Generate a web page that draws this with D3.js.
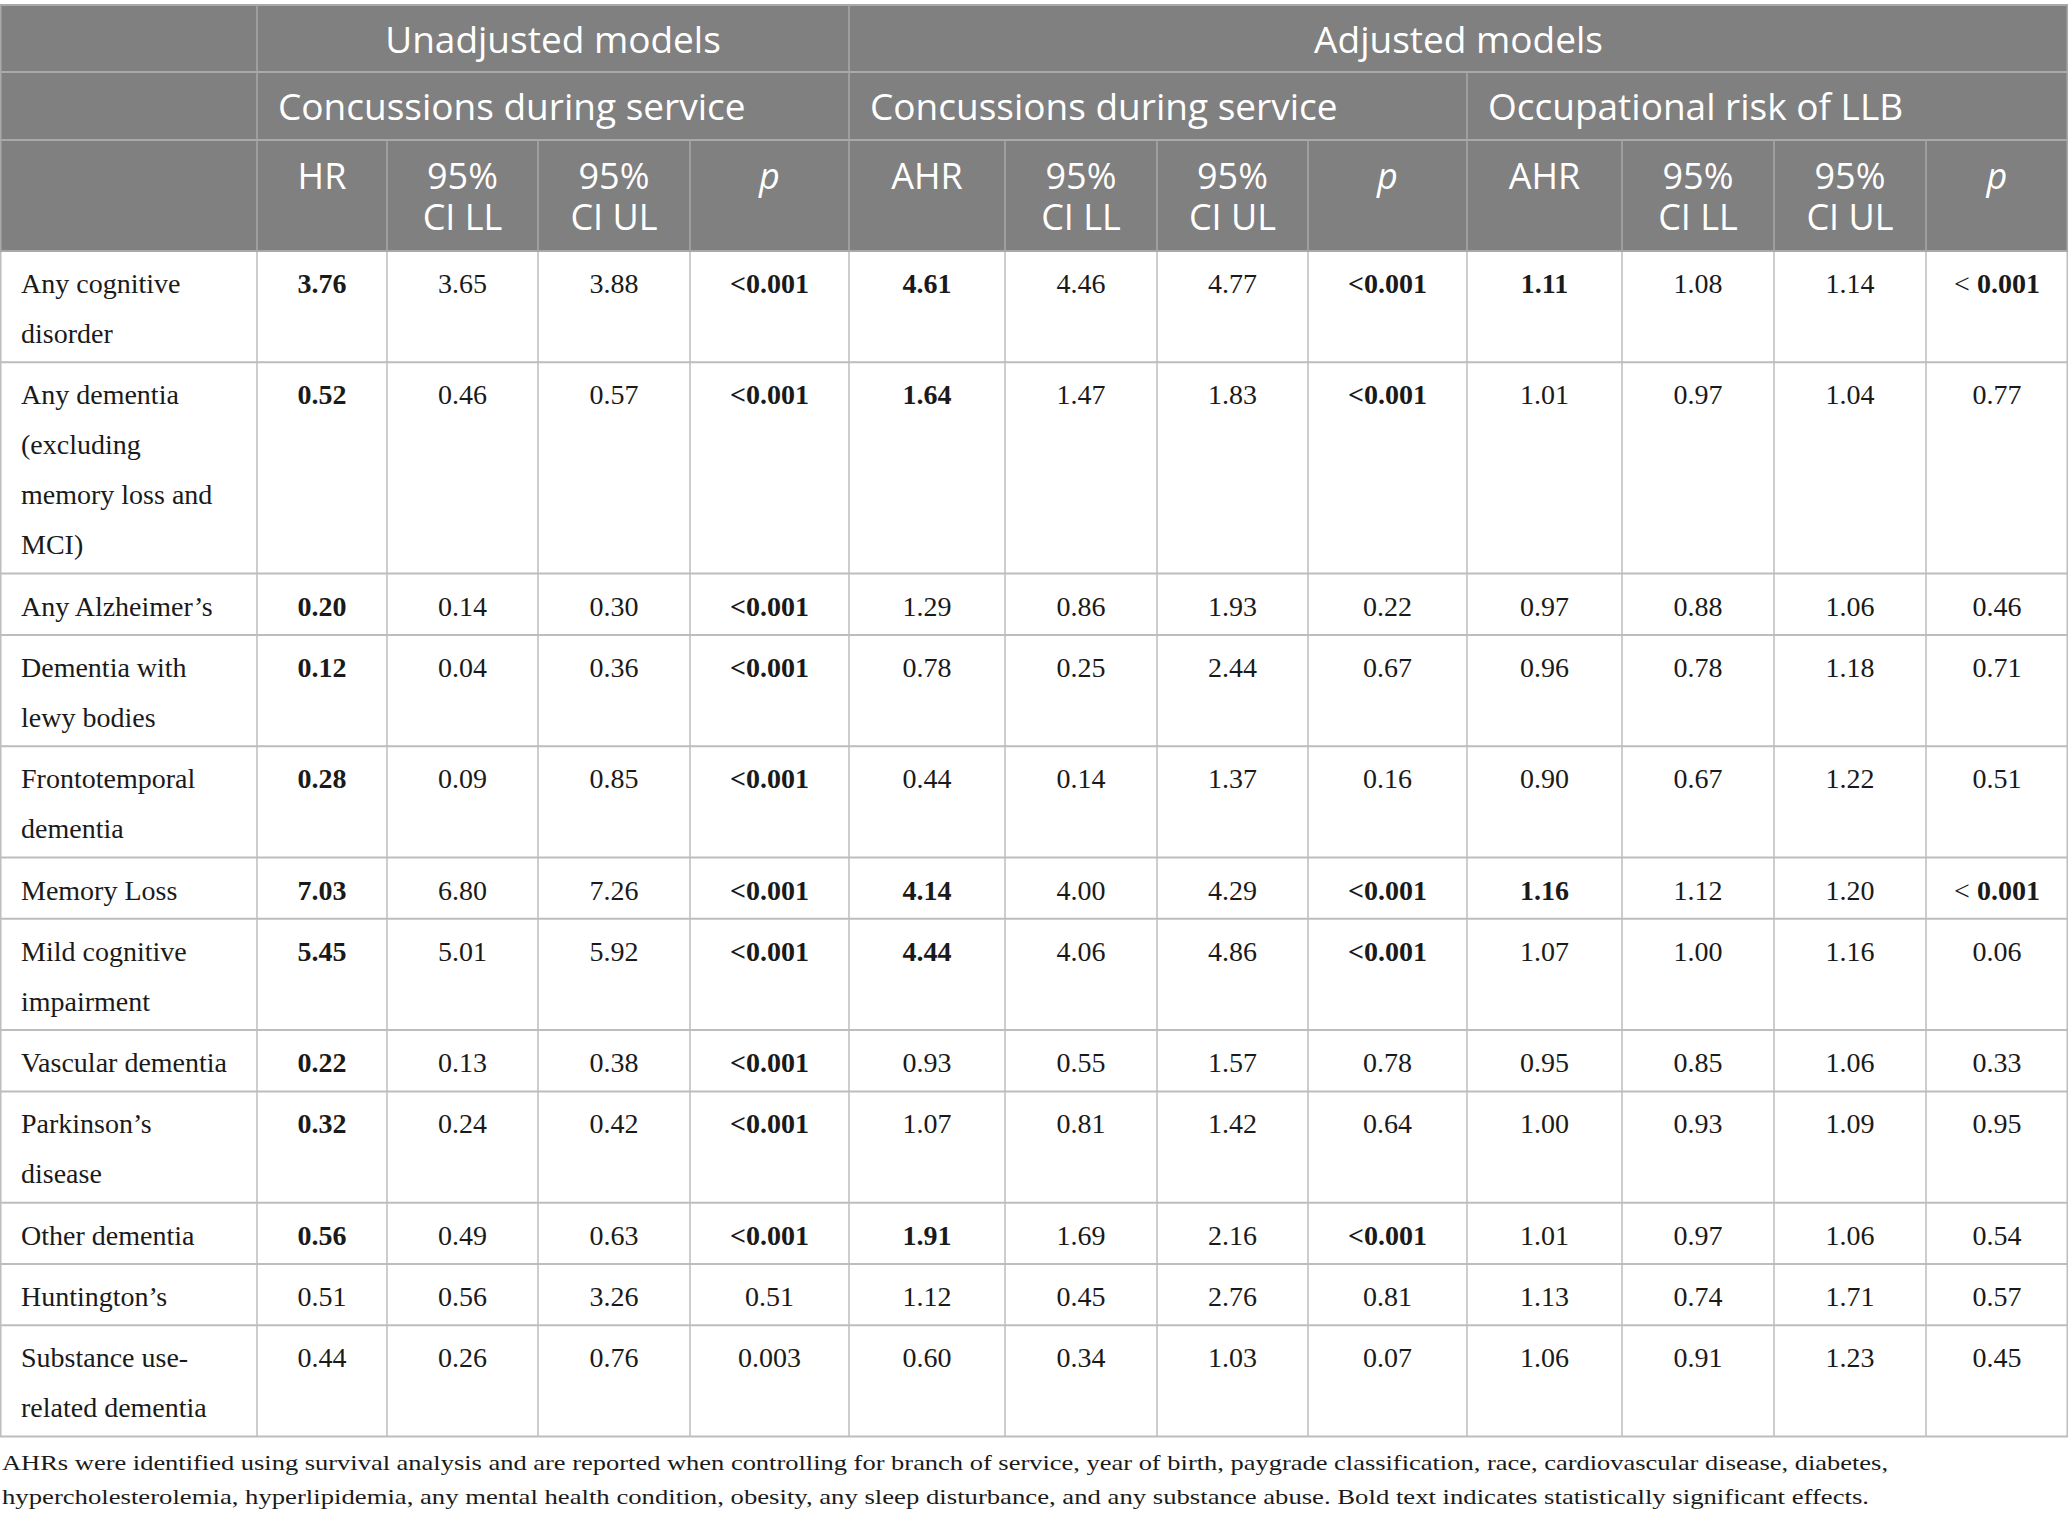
<!DOCTYPE html>
<html>
<head>
<meta charset="utf-8">
<script src="https://cdn.jsdelivr.net/npm/d3@7"></script>
<style>
  body { margin: 0; background: #fff; }
</style>
</head>
<body>
<div id="table"></div>
<script>
// row labels (line breaks as in the printed table)
var conditions = [
  "Any cognitive\ndisorder",
  "Any dementia\n(excluding\nmemory loss and\nMCI)",
  "Any Alzheimer’s",
  "Dementia with\nlewy bodies",
  "Frontotemporal\ndementia",
  "Memory Loss",
  "Mild cognitive\nimpairment",
  "Vascular dementia",
  "Parkinson’s\ndisease",
  "Other dementia",
  "Huntington’s",
  "Substance use-\nrelated dementia"
]

// unadjusted, concussions during service
var hr    = [3.76, 0.52, 0.20, 0.12, 0.28, 7.03, 5.45, 0.22, 0.32, 0.56, 0.51, 0.44]
var hrLL  = [3.65, 0.46, 0.14, 0.04, 0.09, 6.80, 5.01, 0.13, 0.24, 0.49, 0.56, 0.26]
var hrUL  = [3.88, 0.57, 0.30, 0.36, 0.85, 7.26, 5.92, 0.38, 0.42, 0.63, 3.26, 0.76]
var hrP   = ["<0.001","<0.001","<0.001","<0.001","<0.001","<0.001","<0.001","<0.001","<0.001","<0.001","0.51","0.003"]
var hrSig = [1,1,1,1,1,1,1,1,1,1,0,0]

// adjusted, concussions during service
var ahrC    = [4.61, 1.64, 1.29, 0.78, 0.44, 4.14, 4.44, 0.93, 1.07, 1.91, 1.12, 0.60]
var ahrCLL  = [4.46, 1.47, 0.86, 0.25, 0.14, 4.00, 4.06, 0.55, 0.81, 1.69, 0.45, 0.34]
var ahrCUL  = [4.77, 1.83, 1.93, 2.44, 1.37, 4.29, 4.86, 1.57, 1.42, 2.16, 2.76, 1.03]
var ahrCP   = ["<0.001","<0.001","0.22","0.67","0.16","<0.001","<0.001","0.78","0.64","<0.001","0.81","0.07"]
var ahrCSig = [1,1,0,0,0,1,1,0,0,1,0,0]

// adjusted, occupational risk of LLB
var ahrL    = [1.11, 1.01, 0.97, 0.96, 0.90, 1.16, 1.07, 0.95, 1.00, 1.01, 1.13, 1.06]
var ahrLLL  = [1.08, 0.97, 0.88, 0.78, 0.67, 1.12, 1.00, 0.85, 0.93, 0.97, 0.74, 0.91]
var ahrLUL  = [1.14, 1.04, 1.06, 1.18, 1.22, 1.20, 1.16, 1.06, 1.09, 1.06, 1.71, 1.23]
var ahrLP   = ["< 0.001","0.77","0.46","0.71","0.51","< 0.001","0.06","0.33","0.95","0.54","0.57","0.45"]
var ahrLSig = [1,0,0,0,0,1,0,0,0,0,0,0]

// header labels
var modelGroups = ["Unadjusted models", "Adjusted models"]
var exposures = ["Concussions during service", "Concussions during service", "Occupational risk of LLB"]
var colHeads = ["HR","95%\nCI LL","95%\nCI UL","p","AHR","95%\nCI LL","95%\nCI UL","p","AHR","95%\nCI LL","95%\nCI UL","p"]

var footnote = [
  "AHRs were identified using survival analysis and are reported when controlling for branch of service, year of birth, paygrade classification, race, cardiovascular disease, diabetes,",
  "hypercholesterolemia, hyperlipidemia, any mental health condition, obesity, any sleep disturbance, and any substance abuse. Bold text indicates statistically significant effects."
]

var W = 2068, H = 1527
var colW = [257,130,151,152,159,156,152,151,159,155,152,152,142]
var headBg = "#808080", headLine = "#a9a9a9", gridLine = "#bdbdbd"
var sans = "'Open Sans', 'Noto Sans', sans-serif"
var serif = "'Liberation Serif', 'DejaVu Serif', serif"
var fmt = d3.format(".2f")

var colKeys = d3.range(colW.length)
var xEdges = [0]
colW.forEach(function(w){ xEdges.push(xEdges[xEdges.length-1] + w) })
var x = d3.scaleOrdinal().domain(colKeys).range(xEdges.slice(0, -1))

var svg = d3.select("#table").append("svg")
  .attr("width", W).attr("height", H)
  .style("display", "block")

svg.append("rect").attr("width", W).attr("height", H).attr("fill", "#fff")

// ---- header ----
var head = svg.append("g")
var hTop = 5, hRows = [hTop, 72, 140, 251]

head.append("rect")
  .attr("x", 0).attr("y", hTop)
  .attr("width", W).attr("height", hRows[3] - hTop)
  .attr("fill", headBg)

// header horizontal lines
head.selectAll(".hl").data(hRows).enter().append("line")
  .attr("x1", 0).attr("x2", W)
  .attr("y1", d => d).attr("y2", d => d)
  .attr("stroke", headLine).attr("stroke-width", 2)

// column spans of the two upper header rows
var spansRow1 = [[1,4],[5,12]]
var spansRow2 = [[1,4],[5,8],[9,12]]

function vline(g, xx, y1, y2, col){
  g.append("line").attr("x1", xx).attr("x2", xx).attr("y1", y1).attr("y2", y2)
    .attr("stroke", col).attr("stroke-width", 1.5)
}

vline(head, 0.75, hRows[0], hRows[3], headLine)
vline(head, W - 0.75, hRows[0], hRows[3], headLine)
spansRow1.forEach(function(s){ vline(head, x(s[0]), hRows[0], hRows[1], headLine) })
spansRow2.forEach(function(s){ vline(head, x(s[0]), hRows[1], hRows[2], headLine) })
colKeys.forEach(function(c){ if (c > 0) vline(head, x(c), hRows[2], hRows[3], headLine) })

head.selectAll(".grp").data(modelGroups).enter().append("text")
  .attr("x", (d,i) => (x(spansRow1[i][0]) + xEdges[spansRow1[i][1]+1]) / 2)
  .attr("y", 53)
  .attr("text-anchor", "middle")
  .attr("fill", "#fff")
  .style("font-family", sans).style("font-size", "37px")
  .text(d => d)

head.selectAll(".exp").data(exposures).enter().append("text")
  .attr("x", (d,i) => x(spansRow2[i][0]) + 21)
  .attr("y", 120)
  .attr("fill", "#fff")
  .style("font-family", sans).style("font-size", "37px")
  .text(d => d)

head.selectAll(".ch").data(colHeads).enter().append("text")
  .attr("x", (d,i) => x(i+1) + colW[i+1] / 2)
  .attr("y", 189)
  .attr("text-anchor", "middle")
  .attr("fill", "#fff")
  .style("font-family", sans).style("font-size", "36px")
  .style("font-style", d => d === "p" ? "italic" : "normal")
  .each(function(d){
    var t = d3.select(this)
    d.split("\n").forEach(function(line, k){
      t.append("tspan").attr("x", t.attr("x")).attr("dy", k ? 41 : 0).text(line)
    })
  })

// ---- body ----
var lineH = 50, padV = 11.3
var rowLines = conditions.map(c => c.split("\n").length)
var yEdges = [hRows[3]]
rowLines.forEach(function(n){ yEdges.push(yEdges[yEdges.length-1] + n*lineH + padV) })
var y = d3.scaleOrdinal().domain(d3.range(conditions.length)).range(yEdges.slice(0, -1))

var rows = conditions.map(function(c, i){
  return {
    label: c,
    cells: [
      {v: fmt(hr[i]), b: hrSig[i]}, {v: fmt(hrLL[i])}, {v: fmt(hrUL[i])}, {v: hrP[i], b: hrSig[i]},
      {v: fmt(ahrC[i]), b: ahrCSig[i]}, {v: fmt(ahrCLL[i])}, {v: fmt(ahrCUL[i])}, {v: ahrCP[i], b: ahrCSig[i]},
      {v: fmt(ahrL[i]), b: ahrLSig[i]}, {v: fmt(ahrLLL[i])}, {v: fmt(ahrLUL[i])}, {v: ahrLP[i], b: ahrLSig[i]}
    ]
  }
})

var body = svg.append("g")
var yEnd = yEdges[yEdges.length-1]

body.selectAll(".rl").data(yEdges.slice(1)).enter().append("line")
  .attr("x1", 0).attr("x2", W)
  .attr("y1", d => d).attr("y2", d => d)
  .attr("stroke", gridLine).attr("stroke-width", 2)

xEdges.forEach(function(xx, c){
  var xv = c === 0 ? 0.75 : (c === xEdges.length-1 ? W - 0.75 : xx)
  vline(body, xv, hRows[3] + 1, yEnd, gridLine)
})

var rg = body.selectAll(".row").data(rows).enter().append("g")
  .attr("transform", (d,i) => "translate(0," + y(i) + ")")

rg.append("text")
  .attr("x", 21).attr("y", 42)
  .attr("fill", "#1a1a1a")
  .style("font-family", serif).style("font-size", "28px")
  .each(function(d){
    var t = d3.select(this)
    d.label.split("\n").forEach(function(line, k){
      t.append("tspan").attr("x", 21).attr("dy", k ? lineH : 0).text(line)
    })
  })

rg.selectAll(".cell").data(d => d.cells).enter().append("text")
  .attr("x", (d,i) => x(i+1) + colW[i+1] / 2)
  .attr("y", 42)
  .attr("text-anchor", "middle")
  .attr("fill", "#1a1a1a")
  .style("font-family", serif).style("font-size", "28px")
  .each(function(d){
    var t = d3.select(this)
    if (d.b && d.v.indexOf("< ") === 0) {
      t.append("tspan").text("< ")
      t.append("tspan").style("font-weight", "bold").text(d.v.slice(2))
    } else {
      t.style("font-weight", d.b ? "bold" : "normal").text(d.v)
    }
  })

// ---- footnote ----
svg.selectAll(".fn").data(footnote).enter().append("text")
  .attr("x", 2)
  .attr("y", (d,i) => 1470 + i*34)
  .attr("fill", "#1a1a1a")
  .style("font-family", serif).style("font-size", "22px")
  .attr("textLength", (d,i) => i ? 1867 : 1886)
  .attr("lengthAdjust", "spacingAndGlyphs")
  .text(d => d)
</script>
</body>
</html>
